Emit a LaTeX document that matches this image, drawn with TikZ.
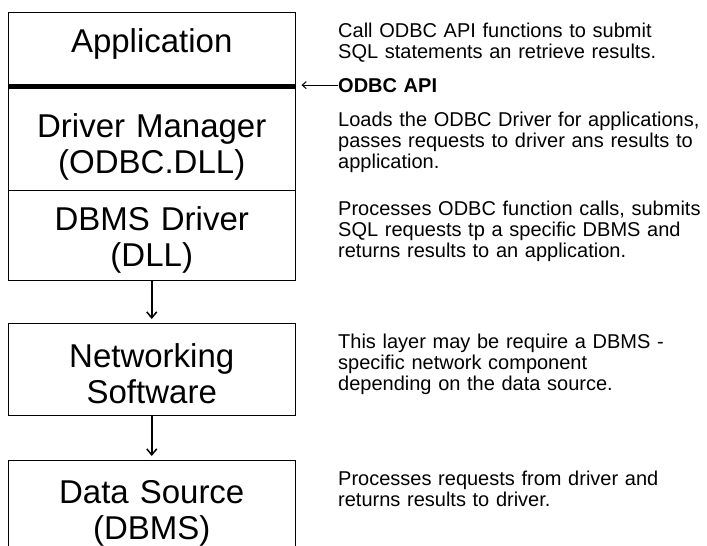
\documentclass[tikz,border=0pt]{standalone}
\usepackage{fontspec}
\setmainfont{Liberation Sans}
\usetikzlibrary{positioning, arrows.meta}

\begin{document}
\begin{tikzpicture}[
    x=1pt, y=-1pt,
    node distance = 0pt,
    tier/.style = {draw, line width=1pt, outer sep=0pt, inner sep=0pt,
                   minimum width=287.5pt, text width=284pt, align=center,
                   font=\fontsize{33}{36}\selectfont,
                   text height=24pt, text depth=#1},
    note/.style = {anchor=base west, inner sep=0pt, text width=368pt,
                   align=left, font=\fontsize{20}{21}\selectfont},
    flow/.style = {-{Straight Barb[length=6pt, width=10pt]}, line width=1.5pt,
                   shorten >=4pt},
    apiarr/.style = {-{Straight Barb[length=4pt, width=7pt]}, line width=1pt,
                     shorten >=6pt},
  ]
  \useasboundingbox (0,0) rectangle (707,546);
  \clip (0,0) rectangle (707,546);
    % layer stack
    \node[tier=18pt, minimum height=74pt, anchor=north] (app) at (151.75,12)
      {Application};
    \node[tier=26pt, minimum height=104pt, below=of app] (mgr)
      {Driver Manager\\(ODBC.DLL)};
    \node[tier=34pt, minimum height=90pt, below=of mgr] (drv)
      {DBMS Driver\\(DLL)};
    \node[tier=28pt, minimum height=92pt, below=43pt of drv] (net)
      {Networking\\Software};
    \node[tier=44pt, minimum height=106pt, below=45pt of net] (src)
      {Data Source\\(DBMS)};
    \draw[line width=5pt] (app.south west) -- (app.south east);
    \draw[flow] (drv) -- (net);
    \draw[flow] (net) -- (src);
    % notes on the right
    \node[note] (callnote) at (338,37)
      {Call ODBC API functions to submit\\SQL statements an retrieve results.};
    \node[note, font=\fontsize{20}{21}\selectfont\bfseries] (odbc) at (338,92)
      {ODBC API};
    \node[note] (loadnote) at (338,126)
      {Loads the ODBC Driver for applications,\\passes requests to driver ans results to\\application.};
    \node[note] (procnote) at (338,215)
      {Processes ODBC function calls, submits\\SQL requests tp a specific DBMS and\\returns results to an application.};
    \node[note] (netnote) at (338,348)
      {This layer may be require a DBMS -\\specific network component\\depending on the data source.};
    \node[note] (srcnote) at (338,485)
      {Processes requests from driver and\\returns results to driver.};
    \draw[apiarr] (odbc.west) -- (odbc.west -| mgr.north east);
\end{tikzpicture}
\end{document}
